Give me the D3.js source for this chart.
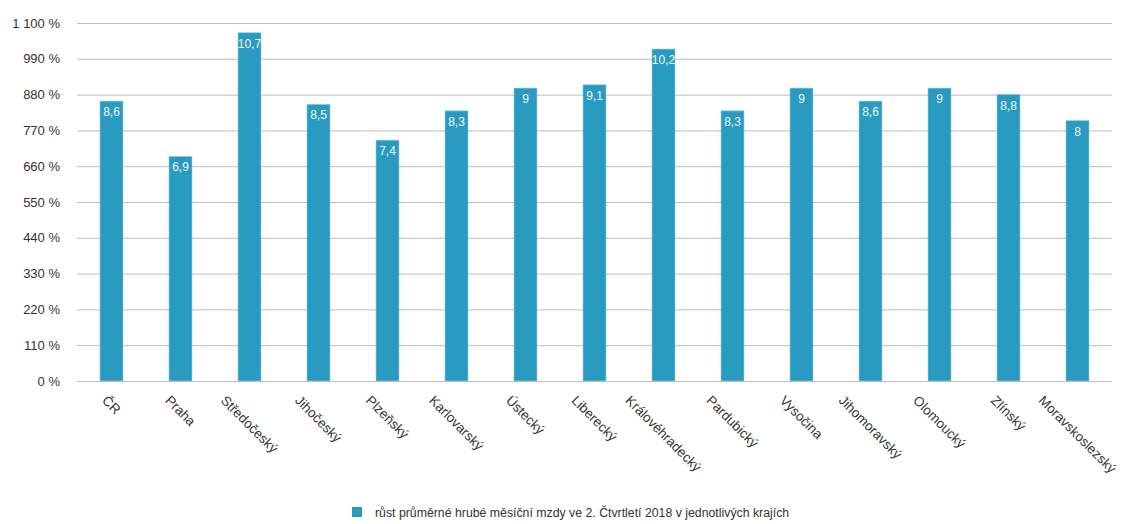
<!DOCTYPE html>
<html lang="cs">
<head>
<meta charset="utf-8">
<script src="https://cdn.jsdelivr.net/npm/d3@7"></script>
<style>
  html, body { margin: 0; padding: 0; background: #fff; }
  svg { display: block; font-family: "Liberation Sans", Arial, Helvetica, sans-serif; }
</style>
</head>
<body>
<svg id="chart" width="1121" height="524"></svg>
<script>
// Regions of the Czech Republic
const regions = [
  "ČR", "Praha", "Středočeský", "Jihočeský", "Plzeňský", "Karlovarský",
  "Ústecký", "Liberecký", "Královéhradecký", "Pardubický", "Vysočina",
  "Jihomoravský", "Olomoucký", "Zlínský", "Moravskoslezský"
];
// Growth of average gross monthly wage, Q2 2018
const growth = [8.6, 6.9, 10.7, 8.5, 7.4, 8.3, 9, 9.1, 10.2, 8.3, 9, 8.6, 9, 8.8, 8];
// Axis ticks (percent)
const yTicks = [0, 110, 220, 330, 440, 550, 660, 770, 880, 990, 1100];
const seriesName = "růst průměrné hrubé měsíční mzdy ve 2. Čtvrtletí 2018 v jednotlivých krajích";

const svg = d3.select("#chart");
const plotLeft = 77, plotRight = 1112, plotTop = 23, plotBottom = 381;
const barColor = "#2a9bc0";

const csLocale = d3.formatLocale({ decimal: ",", thousands: " ", grouping: [3], currency: ["", " Kč"] });
const fmtTick = v => csLocale.format(",d")(v) + " %";
const fmtVal = csLocale.format(",");

const x = d3.scaleBand().domain(regions).range([plotLeft, plotRight])
  .paddingInner(2 / 3).paddingOuter(1 / 3);
const y = d3.scaleLinear().domain([0, 1100]).range([plotBottom, plotTop]);

// Gridlines and y labels
const yAxis = d3.axisLeft(y).tickValues(yTicks).tickSize(-(plotRight - plotLeft)).tickFormat(fmtTick).tickPadding(17);
const gy = svg.append("g").attr("transform", `translate(${plotLeft},0)`).call(yAxis);
gy.select(".domain").remove();
gy.selectAll(".tick line").attr("stroke", "#bdbdbd").attr("stroke-width", 1);
gy.selectAll(".tick text").attr("fill", "#333").attr("font-size", 13);

// Bars
const data = regions.map((r, i) => ({ r, v: growth[i] }));
svg.append("g").selectAll("rect").data(data).join("rect")
  .attr("x", d => x(d.r))
  .attr("y", d => y(d.v * 100))
  .attr("width", x.bandwidth())
  .attr("height", d => plotBottom - y(d.v * 100))
  .attr("fill", barColor)
  .attr("stroke", "#8fcbe0")
  .attr("stroke-width", 0.6);

// Value labels inside bar tops
svg.append("g").selectAll("text").data(data).join("text")
  .attr("x", d => x(d.r) + x.bandwidth() / 2)
  .attr("y", d => y(d.v * 100) + 15)
  .attr("text-anchor", "middle")
  .attr("fill", "#f2f8fb")
  .attr("font-size", 12)
  .text(d => fmtVal(d.v));

// Category labels, rotated 45° and centred under each bar
const xl = svg.append("g").selectAll("text").data(regions).join("text")
  .attr("font-size", 13.5)
  .attr("fill", "#333")
  .attr("text-anchor", "middle")
  .attr("dy", "0.35em")
  .text(d => d);
xl.each(function (d) {
  const w = this.getComputedTextLength();
  const cx = x(d) + x.bandwidth() / 2;
  const cy = 398 + w * 0.3536;
  d3.select(this).attr("transform", `translate(${cx},${cy}) rotate(45)`);
});

// Legend
const lg = svg.append("g").attr("transform", "translate(352,507)");
lg.append("rect").attr("width", 10).attr("height", 10).attr("fill", barColor);
lg.append("text").attr("x", 23).attr("y", 9.5).attr("font-size", 12.3).attr("fill", "#333").text(seriesName);
</script>
</body>
</html>
